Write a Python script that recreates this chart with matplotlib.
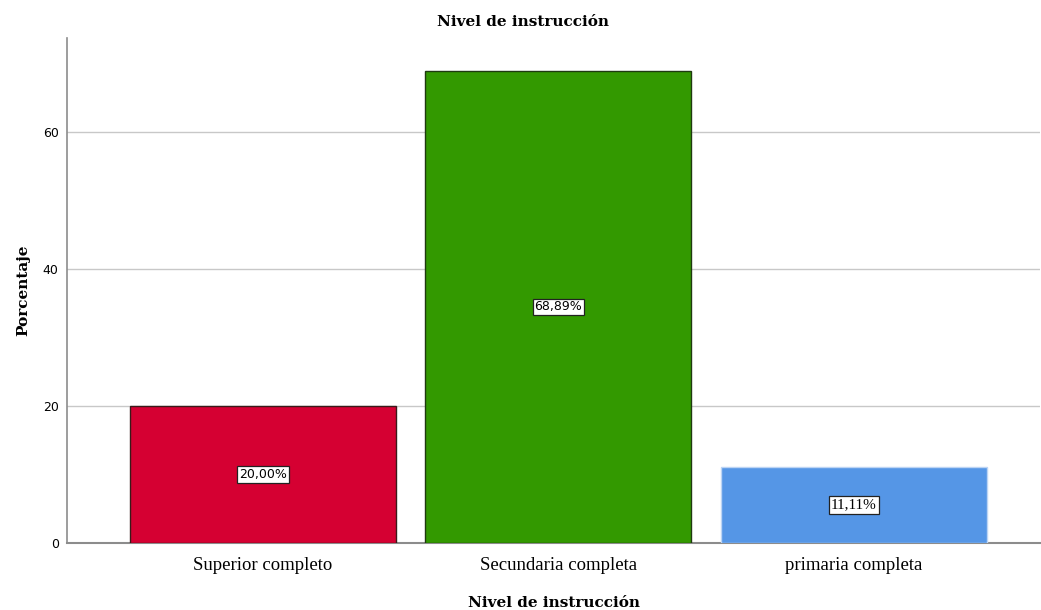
import numpy as np
import matplotlib.pyplot as plt

# Porcentaje por nivel de instrucción
niveles = ['Superior completo', 'Secundaria completa', 'primaria completa']
porcentajes = [20.00, 68.89, 11.11]
colores = ['#D50032', '#339900', '#5596E6']
bordes = ['#3a1a1a', '#1f3a10', '#bcd4f4']
fuentes_etiqueta = ['DejaVu Sans', 'DejaVu Sans', 'Liberation Serif']
tam_etiqueta = [9, 9, 11]

fig = plt.figure(figsize=(10.41, 6.10), dpi=100)
ax = fig.add_axes([67 / 1041, 67 / 610, 973 / 1041, 505 / 610])

x = np.arange(len(niveles))
ax.bar(x, porcentajes, width=0.9, color=colores, edgecolor=bordes,
       linewidth=1.0, zorder=3)

for xi, v, fam, tam in zip(x, porcentajes, fuentes_etiqueta, tam_etiqueta):
    etiqueta = f'{v:.2f}'.replace('.', ',') + '%'
    ax.text(xi, v / 2, etiqueta, ha='center', va='center', fontsize=tam,
            family=fam, zorder=4,
            bbox=dict(boxstyle='square,pad=0.15', fc='white', ec='#222222', lw=0.9))

ax.set_xlim(-0.663, 2.63)
ax.set_ylim(0, 73.7)
ax.set_yticks([0, 20, 40, 60])
ax.set_xticks(x)
ax.set_xticklabels(niveles, family='Liberation Serif', fontsize=13.5)
ax.tick_params(axis='y', length=0, pad=6, labelsize=9)
ax.tick_params(axis='x', length=0, pad=10)
ax.yaxis.grid(True, color='#c8c8c8', linewidth=1.0, zorder=0)

for lado in ['top', 'right']:
    ax.spines[lado].set_visible(False)
ax.spines['left'].set_color('#8c8c8c')
ax.spines['bottom'].set_color('#8c8c8c')
ax.spines['left'].set_linewidth(1.2)
ax.spines['bottom'].set_linewidth(1.5)

fig.text(523 / 1041, 1 - 22 / 610, 'Nivel de instrucción', family='DejaVu Serif',
         fontweight='bold', fontsize=11, ha='center', va='center')
ax.set_xlabel('Nivel de instrucción', family='DejaVu Serif', fontweight='bold',
              fontsize=11, labelpad=16)
ax.set_ylabel('Porcentaje', family='DejaVu Serif', fontweight='bold',
              fontsize=11, labelpad=9)

fig.savefig('out.png', dpi=100)
